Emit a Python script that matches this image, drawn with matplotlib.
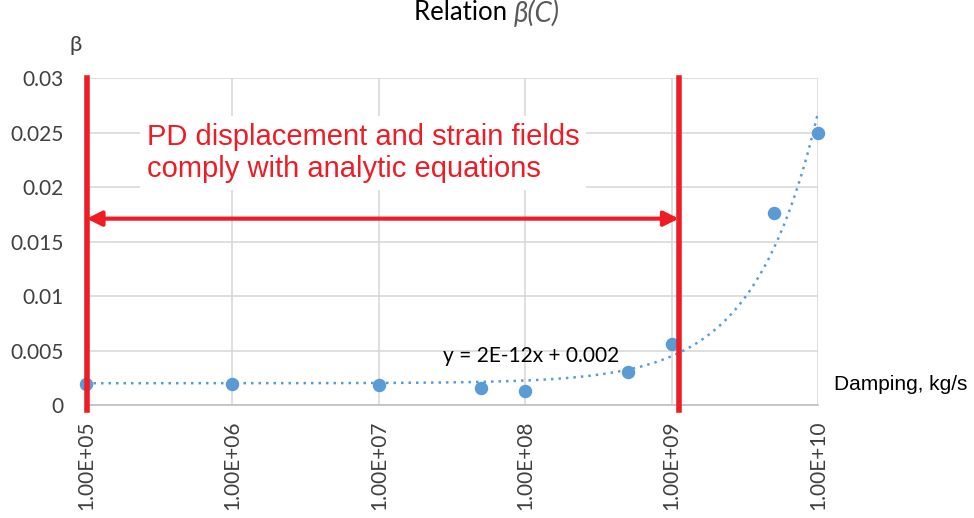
import numpy as np
import matplotlib.pyplot as plt

# data
damping = [1e5, 1e6, 1e7, 5e7, 1e8, 5e8, 1e9, 5e9, 1e10]
beta = [0.0019, 0.0019, 0.0018, 0.00155, 0.0013, 0.003, 0.0056, 0.0176, 0.025]
x_ticks = [1e5, 1e6, 1e7, 1e8, 1e9, 1e10]
x_labels = ['1.00E+05', '1.00E+06', '1.00E+07', '1.00E+08', '1.00E+09', '1.00E+10']
y_ticks = [0, 0.005, 0.01, 0.015, 0.02, 0.025, 0.03]
y_labels = ['0', '0.005', '0.01', '0.015', '0.02', '0.025', '0.03']
# linear trendline as drawn (y = a*x + b)
trend_a = 2.48e-12
trend_b = 0.002
# range where PD fields comply with analytic equations
zone = [1.01e5, 1.12e9]

blue = '#5b9bd5'
red = '#ee1c25'
grid = '#d9d9d9'

fig = plt.figure(figsize=(9.74, 5.18), dpi=100)
ax = fig.add_axes([0.0883, 0.2181, 0.7515, 0.6313])
ax.set_xscale('log')
ax.set_xlim(1e5, 1e10)
ax.set_ylim(0, 0.03)

ax.set_xticks(x_ticks)
ax.set_xticklabels(x_labels, rotation=90, fontfamily='Lato', fontsize=15, color='#404040')
ax.set_yticks(y_ticks)
ax.set_yticklabels(y_labels, fontfamily='Lato', fontsize=15, color='#404040')
ax.minorticks_off()
ax.tick_params(length=0)
ax.tick_params(axis='y', pad=16)
ax.tick_params(axis='x', pad=11)
ax.grid(True, color=grid, lw=1.2)
ax.set_axisbelow(True)
for s in ['top', 'right', 'left']:
    ax.spines[s].set_visible(False)
ax.spines['bottom'].set_color('#bfbfbf')
ax.spines['bottom'].set_linewidth(1.2)

# trendline
xt = np.logspace(5, 10, 300)
ax.plot(xt, trend_a * xt + trend_b, ls=(0, (1, 2)), color=blue, lw=1.8, zorder=3)
ax.scatter(damping, beta, s=75, color=blue, zorder=4, clip_on=False)

# red markers
for xv in zone:
    ax.plot([xv, xv], [-0.0005, 0.03], color=red, lw=4, clip_on=False, zorder=5)
ax.annotate('', xy=(zone[0], 0.0171), xytext=(zone[1], 0.0171),
            arrowprops=dict(arrowstyle='<|-|>', color=red, lw=3,
                            mutation_scale=22, shrinkA=0, shrinkB=0), zorder=5)
ax.text(2.6e5, 0.0231, 'PD displacement and strain fields\ncomply with analytic equations',
        color=red, fontsize=21, fontfamily='Liberation Sans', ha='left', va='center',
        linespacing=1.2, zorder=4,
        bbox=dict(facecolor='white', edgecolor='none', pad=5))

ax.text(1.1e8, 0.0045, 'y = 2E-12x + 0.002', fontsize=15, fontfamily='Lato',
        ha='center', va='center', color='black', zorder=4)

fig.text(0.856, 0.258, 'Damping, kg/s', fontsize=15, fontfamily='Liberation Sans',
         ha='left', va='center', color='black')
fig.text(0.071, 0.913, 'β', fontsize=16, fontfamily='Lato', ha='left', va='center',
         color='#404040')
fig.text(0.425, 0.975, 'Relation ', fontsize=18.5, fontfamily='Lato', ha='left', va='center',
         color='black')
fig.text(0.527, 0.975, 'β(C)', fontsize=20, fontfamily='Lato', style='italic',
         ha='left', va='center', color='#595959')

fig.savefig('out.png', dpi=100)
